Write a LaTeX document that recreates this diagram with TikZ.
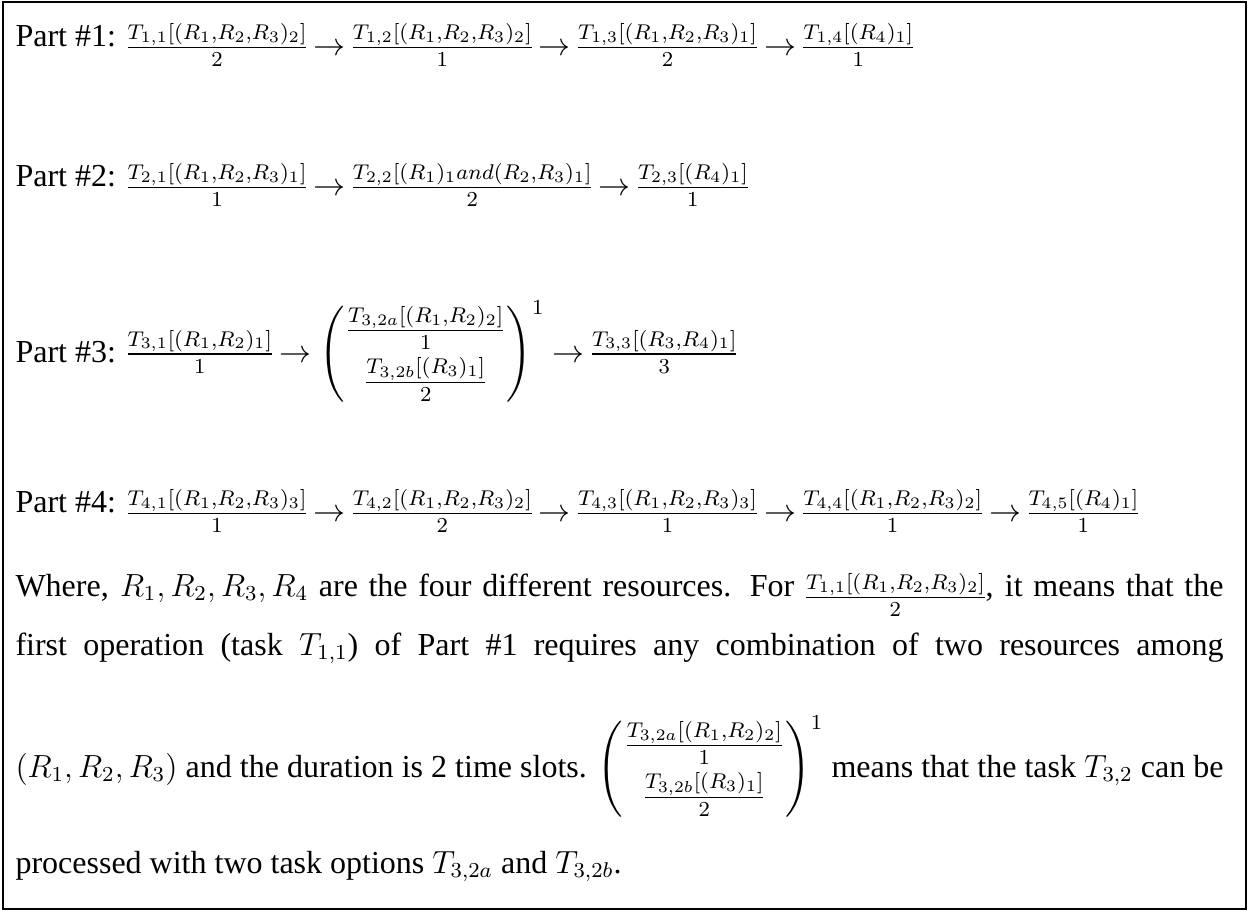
\documentclass[tikz,border=0pt]{standalone}
\usepackage{amsmath}
\usepackage{fontspec}
\setmainfont{Liberation Serif}
\usetikzlibrary{positioning}
% inline equations sit a little low, as in the original
\newcommand{\lowmath}[1]{\raisebox{-3.5pt}{$#1$}}
\newcommand{\optmat}{$\left(\begin{array}{c}
  \frac{T_{3,2a}[(R_1,R_2)_2]}{1}\\[3pt]
  \frac{T_{3,2b}[(R_3)_1]}{2}
  \end{array}\right)^{1}$}
\tikzset{
  textline/.style={
    anchor=base west,
    inner sep=0pt,
    font=\fontsize{12}{14}\selectfont,
    execute at begin node={\thickmuskip=3.5mu\nulldelimiterspace=0.4pt\arraycolsep=1pt}
  },
  frame/.style={
    draw,
    line width=1pt
  },
}
\begin{document}
\begin{tikzpicture}[x=0.375pt,y=-0.375pt]
\useasboundingbox (0,0) rectangle (1248,911);
\draw[frame] (3,2) rectangle (1246,909);
% the four parts
\node[textline] (part1) at (15,46) {Part \#1: \lowmath{\frac{T_{1,1}[(R_1,R_2,R_3)_2]}{2}
  \rightarrow \frac{T_{1,2}[(R_1,R_2,R_3)_2]}{1}
  \rightarrow \frac{T_{1,3}[(R_1,R_2,R_3)_1]}{2}
  \rightarrow \frac{T_{1,4}[(R_4)_1]}{1}}};
\node[textline] (part2) at (15,186) {Part \#2: \lowmath{\frac{T_{2,1}[(R_1,R_2,R_3)_1]}{1}
  \rightarrow \frac{T_{2,2}[(R_1)_1 and (R_2,R_3)_1]}{2}
  \rightarrow \frac{T_{2,3}[(R_4)_1]}{1}}};
\node[textline] (part3) at (15,362) {Part \#3: $\frac{T_{3,1}[(R_1,R_2)_1]}{1}
  \rightarrow$ \optmat{} $\rightarrow \frac{T_{3,3}[(R_3,R_4)_1]}{3}$};
\node[textline] (part4) at (15,512) {Part \#4: \lowmath{\frac{T_{4,1}[(R_1,R_2,R_3)_3]}{1}
  \rightarrow \frac{T_{4,2}[(R_1,R_2,R_3)_2]}{2}
  \rightarrow \frac{T_{4,3}[(R_1,R_2,R_3)_3]}{1}
  \rightarrow \frac{T_{4,4}[(R_1,R_2,R_3)_2]}{1}
  \rightarrow \frac{T_{4,5}[(R_4)_1]}{1}}};
% the explanation
\node[textline] (where) at (15,596) {\makebox[453pt][s]{Where, $R_1, R_2, R_3, R_4$ are the four
  different resources. For \lowmath{\frac{T_{1,1}[(R_1,R_2,R_3)_2]}{2}}, it means that the}};
\node[textline] (first) at (15,655) {\makebox[453pt][s]{first operation (task $T_{1,1}$) of
  Part \#1 requires any combination of two resources among}};
\node[textline] (dur) at (15,777) {\makebox[453pt][s]{$(R_1, R_2, R_3)$ and the duration is 2
  time slots. \optmat{} means that the task $T_{3,2}$ can be}};
\node[textline] (proc) at (15,873) {processed with two task options $T_{3,2a}$ and $T_{3,2b}$.};
\end{tikzpicture}
\end{document}
